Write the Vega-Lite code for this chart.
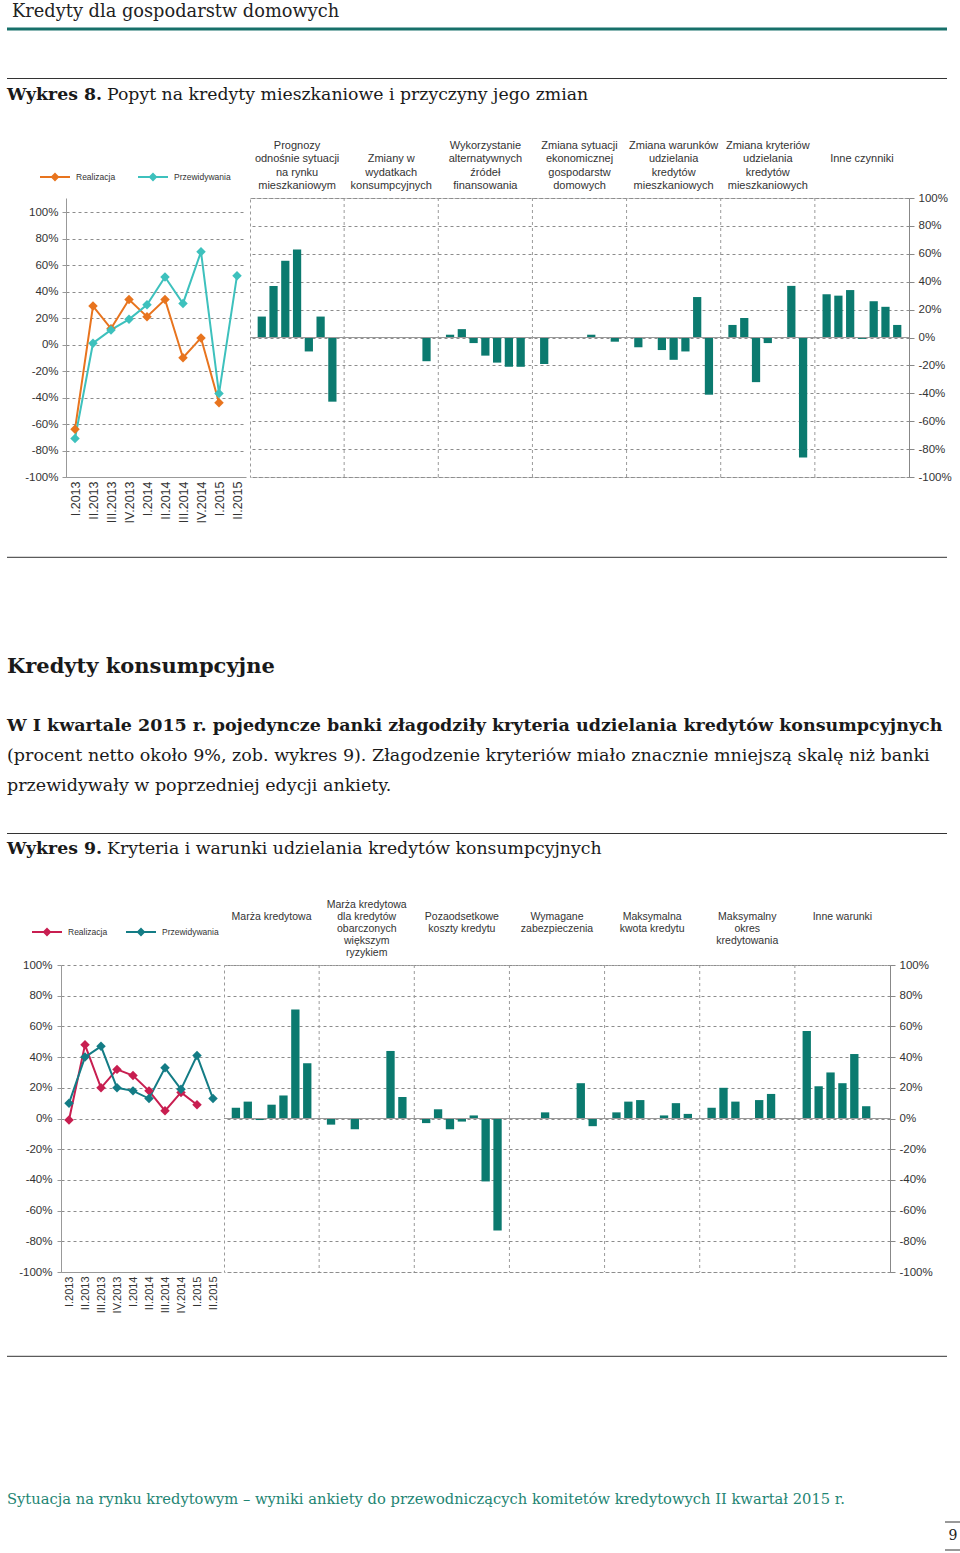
{
  "$schema": "https://vega.github.io/schema/vega-lite/v6.json",
  "background": "white",
  "padding": {"left": 5, "top": 2, "right": 0, "bottom": 0},
  "spacing": 0,
  "config": {
    "view": {"stroke": null},
    "font": "Liberation Sans",
    "axis": {"labelFont": "Liberation Sans", "labelColor": "#333"},
    "legend": {"labelFont": "Liberation Sans"},
    "title": {"font": "DejaVu Serif", "anchor": "start", "frame": "group", "color": "#1a1a1a", "fontWeight": "normal"}
  },
  "datasets": {
    "b8": [
      {"k": "III.2013_1", "v": 15}, {"k": "IV.2013_1", "v": 37}, {"k": "I.2014_1", "v": 55}, {"k": "II.2014_1", "v": 63}, {"k": "III.2014_1", "v": -10}, {"k": "IV.2014_1", "v": 15}, {"k": "I.2015_1", "v": -46},
      {"k": "I.2015_2", "v": -17},
      {"k": "III.2013_3", "v": 2}, {"k": "IV.2013_3", "v": 6}, {"k": "I.2014_3", "v": -4}, {"k": "II.2014_3", "v": -13}, {"k": "III.2014_3", "v": -18}, {"k": "IV.2014_3", "v": -21}, {"k": "I.2015_3", "v": -21},
      {"k": "III.2013_4", "v": -19}, {"k": "III.2014_4", "v": 2}, {"k": "I.2015_4", "v": -3},
      {"k": "III.2013_5", "v": -7}, {"k": "I.2014_5", "v": -9}, {"k": "II.2014_5", "v": -16}, {"k": "III.2014_5", "v": -10}, {"k": "IV.2014_5", "v": 29}, {"k": "I.2015_5", "v": -41},
      {"k": "III.2013_6", "v": 9}, {"k": "IV.2013_6", "v": 14}, {"k": "I.2014_6", "v": -32}, {"k": "II.2014_6", "v": -4}, {"k": "IV.2014_6", "v": 37}, {"k": "I.2015_6", "v": -86},
      {"k": "III.2013_7", "v": 31}, {"k": "IV.2013_7", "v": 30}, {"k": "I.2014_7", "v": 34}, {"k": "II.2014_7", "v": -1}, {"k": "III.2014_7", "v": 26}, {"k": "IV.2014_7", "v": 22}, {"k": "I.2015_7", "v": 9}
    ],
    "b9": [
      {"k": "III.2013_1", "v": 7}, {"k": "IV.2013_1", "v": 11}, {"k": "I.2014_1", "v": -1}, {"k": "II.2014_1", "v": 9}, {"k": "III.2014_1", "v": 15}, {"k": "IV.2014_1", "v": 71}, {"k": "I.2015_1", "v": 36},
      {"k": "III.2013_2", "v": -4}, {"k": "I.2014_2", "v": -7}, {"k": "IV.2014_2", "v": 44}, {"k": "I.2015_2", "v": 14},
      {"k": "III.2013_3", "v": -3}, {"k": "IV.2013_3", "v": 6}, {"k": "I.2014_3", "v": -7}, {"k": "II.2014_3", "v": -2}, {"k": "III.2014_3", "v": 2}, {"k": "IV.2014_3", "v": -41}, {"k": "I.2015_3", "v": -73},
      {"k": "I.2014_4", "v": 4}, {"k": "IV.2014_4", "v": 23}, {"k": "I.2015_4", "v": -5},
      {"k": "III.2013_5", "v": 4}, {"k": "IV.2013_5", "v": 11}, {"k": "I.2014_5", "v": 12}, {"k": "III.2014_5", "v": 2}, {"k": "IV.2014_5", "v": 10}, {"k": "I.2015_5", "v": 3},
      {"k": "III.2013_6", "v": 7}, {"k": "IV.2013_6", "v": 20}, {"k": "I.2014_6", "v": 11}, {"k": "III.2014_6", "v": 12}, {"k": "IV.2014_6", "v": 16},
      {"k": "III.2013_7", "v": 57}, {"k": "IV.2013_7", "v": 21}, {"k": "I.2014_7", "v": 30}, {"k": "II.2014_7", "v": 23}, {"k": "III.2014_7", "v": 42}, {"k": "IV.2014_7", "v": 8}
    ],
    "t8": [
      {"k": "II.2014_1", "t": "Prognozy|odnośnie sytuacji|na rynku|mieszkaniowym"},
      {"k": "II.2014_2", "t": "|Zmiany w|wydatkach|konsumpcyjnych"},
      {"k": "II.2014_3", "t": "Wykorzystanie|alternatywnych|źródeł|finansowania"},
      {"k": "II.2014_4", "t": "Zmiana sytuacji|ekonomicznej|gospodarstw|domowych"},
      {"k": "II.2014_5", "t": "Zmiana warunków|udzielania|kredytów|mieszkaniowych"},
      {"k": "II.2014_6", "t": "Zmiana kryteriów|udzielania|kredytów|mieszkaniowych"},
      {"k": "II.2014_7", "t": "|||Inne czynniki"}
    ],
    "t9": [
      {"k": "II.2014_1", "t": "||||Marża kredytowa"},
      {"k": "II.2014_2", "t": "Marża kredytowa|dla kredytów|obarczonych|większym|ryzykiem"},
      {"k": "II.2014_3", "t": "|||Pozaodsetkowe|koszty kredytu"},
      {"k": "II.2014_4", "t": "|||Wymagane|zabezpieczenia"},
      {"k": "II.2014_5", "t": "|||Maksymalna|kwota kredytu"},
      {"k": "II.2014_6", "t": "||Maksymalny|okres|kredytowania"},
      {"k": "II.2014_7", "t": "||||Inne warunki"}
    ],
    "seps": [{"k": "_s1"}, {"k": "_s2"}, {"k": "_s3"}, {"k": "_s4"}, {"k": "_s5"}, {"k": "_s6"}],
    "l8": [
      {"q": "I.2013", "s": "Realizacja", "v": -64}, {"q": "II.2013", "s": "Realizacja", "v": 29}, {"q": "III.2013", "s": "Realizacja", "v": 12}, {"q": "IV.2013", "s": "Realizacja", "v": 34}, {"q": "I.2014", "s": "Realizacja", "v": 21}, {"q": "II.2014", "s": "Realizacja", "v": 34}, {"q": "III.2014", "s": "Realizacja", "v": -10}, {"q": "IV.2014", "s": "Realizacja", "v": 5}, {"q": "I.2015", "s": "Realizacja", "v": -44},
      {"q": "I.2013", "s": "Przewidywania", "v": -71}, {"q": "II.2013", "s": "Przewidywania", "v": 1}, {"q": "III.2013", "s": "Przewidywania", "v": 11}, {"q": "IV.2013", "s": "Przewidywania", "v": 19}, {"q": "I.2014", "s": "Przewidywania", "v": 30}, {"q": "II.2014", "s": "Przewidywania", "v": 51}, {"q": "III.2014", "s": "Przewidywania", "v": 31}, {"q": "IV.2014", "s": "Przewidywania", "v": 70}, {"q": "I.2015", "s": "Przewidywania", "v": -37}, {"q": "II.2015", "s": "Przewidywania", "v": 52}
    ],
    "l9": [
      {"q": "I.2013", "s": "Realizacja", "v": -1}, {"q": "II.2013", "s": "Realizacja", "v": 48}, {"q": "III.2013", "s": "Realizacja", "v": 20}, {"q": "IV.2013", "s": "Realizacja", "v": 32}, {"q": "I.2014", "s": "Realizacja", "v": 28}, {"q": "II.2014", "s": "Realizacja", "v": 18}, {"q": "III.2014", "s": "Realizacja", "v": 5}, {"q": "IV.2014", "s": "Realizacja", "v": 17}, {"q": "I.2015", "s": "Realizacja", "v": 9},
      {"q": "I.2013", "s": "Przewidywania", "v": 10}, {"q": "II.2013", "s": "Przewidywania", "v": 40}, {"q": "III.2013", "s": "Przewidywania", "v": 47}, {"q": "IV.2013", "s": "Przewidywania", "v": 20}, {"q": "I.2014", "s": "Przewidywania", "v": 18}, {"q": "II.2014", "s": "Przewidywania", "v": 13}, {"q": "III.2014", "s": "Przewidywania", "v": 33}, {"q": "IV.2014", "s": "Przewidywania", "v": 19}, {"q": "I.2015", "s": "Przewidywania", "v": 41}, {"q": "II.2015", "s": "Przewidywania", "v": 13}
    ]
  },
  "vconcat": [
    {
      "width": 940, "height": 6,
      "data": {"values": [{}]},
      "mark": {"type": "rule", "color": "#17706A", "strokeWidth": 3},
      "encoding": {"y": {"datum": 0, "type": "quantitative", "scale": {"domain": [0, 1]}, "axis": null}},
      "title": {"text": "Kredyty dla gospodarstw domowych", "orient": "top", "offset": 2.5, "dx": 5, "fontSize": 17.8, "color": "#222"}
    },
    {
      "width": 940, "height": 47.5,
      "data": {"values": [{}]},
      "mark": {"type": "rule", "color": "#333", "strokeWidth": 1},
      "encoding": {"y": {"datum": 0, "type": "quantitative", "scale": {"domain": [0, 1]}, "axis": null}}
    },
    {
      "spacing": 5,
      "hconcat": [
        {"width": 1, "height": 1, "data": {"values": []}, "mark": "point",
         "title": {"text": "Wykres 8.", "orient": "bottom", "offset": 6, "fontSize": 17.3, "fontWeight": "bold"}},
        {"width": 1, "height": 1, "data": {"values": []}, "mark": "point",
         "title": {"text": "Popyt na kredyty mieszkaniowe i przyczyny jego zmian", "orient": "bottom", "offset": 6, "fontSize": 17.3}}
      ]
    },
    {"width": 1, "height": 34.5, "data": {"values": []}, "mark": "point"},
    {
      "bounds": "flush", "spacing": 0,
      "hconcat": [
        {"width": 59, "height": 1, "data": {"values": []}, "mark": "point"},
        {
          "width": 180, "height": 279,
          "data": {"name": "l8"},
          "encoding": {
            "x": {"field": "q", "type": "nominal", "sort": ["I.2013", "II.2013", "III.2013", "IV.2013", "I.2014", "II.2014", "III.2014", "IV.2014", "I.2015", "II.2015"],
                  "axis": {"title": null, "labelAngle": -90, "labelFontSize": 12.5, "domain": true, "domainColor": "#999", "ticks": false, "grid": false, "labelPadding": 4}},
            "y": {"field": "v", "type": "quantitative", "scale": {"domain": [-100, 110.6], "nice": false, "zero": false},
                  "axis": {"title": null, "values": [-100, -80, -60, -40, -20, 0, 20, 40, 60, 80, 100], "tickCount": 11, "labelOverlap": false, "labelExpr": "datum.value + '%'", "grid": true, "gridDash": [3, 3], "gridColor": "#8c8c8c", "domain": true, "domainColor": "#999", "ticks": true, "tickSize": 4, "tickColor": "#999", "labelFontSize": 11.5, "labelPadding": 4}},
            "color": {"field": "s", "type": "nominal", "scale": {"domain": ["Realizacja", "Przewidywania"], "range": ["#E8741E", "#3DC1BD"]},
                      "legend": {"orient": "none", "legendX": 32, "legendY": 138, "direction": "horizontal", "title": null, "labelFontSize": 8.5, "labelColor": "#333", "symbolType": "M-1,0L1,0M-0.2,0L0,-0.2L0.2,0L0,0.2Z", "symbolSize": 900, "symbolStrokeWidth": 2, "columnPadding": 18, "labelOffset": 5, "padding": 0}}
          },
          "layer": [
            {"mark": {"type": "line", "strokeWidth": 2}},
            {"mark": {"type": "point", "shape": "diamond", "filled": true, "size": 90, "opacity": 1}}
          ]
        },
        {"width": 4, "height": 1, "data": {"values": []}, "mark": "point"},
        {
          "width": 659, "height": 279,
          "view": {"stroke": "#9a9a9a", "strokeDash": [3, 3]},
          "layer": [
            {"data": {"name": "b8"}, "mark": {"type": "bar", "color": "#0B7A6F"},
             "encoding": {
               "x": {"field": "k", "type": "nominal",
                 "scale": {"domain": ["III.2013_1", "IV.2013_1", "I.2014_1", "II.2014_1", "III.2014_1", "IV.2014_1", "I.2015_1", "_s1", "III.2013_2", "IV.2013_2", "I.2014_2", "II.2014_2", "III.2014_2", "IV.2014_2", "I.2015_2", "_s2", "III.2013_3", "IV.2013_3", "I.2014_3", "II.2014_3", "III.2014_3", "IV.2014_3", "I.2015_3", "_s3", "III.2013_4", "IV.2013_4", "I.2014_4", "II.2014_4", "III.2014_4", "IV.2014_4", "I.2015_4", "_s4", "III.2013_5", "IV.2013_5", "I.2014_5", "II.2014_5", "III.2014_5", "IV.2014_5", "I.2015_5", "_s5", "III.2013_6", "IV.2013_6", "I.2014_6", "II.2014_6", "III.2014_6", "IV.2014_6", "I.2015_6", "_s6", "III.2013_7", "IV.2013_7", "I.2014_7", "II.2014_7", "III.2014_7", "IV.2014_7", "I.2015_7"], "paddingInner": 0.3, "paddingOuter": 0.65},
                 "axis": {"title": null, "labelAngle": -90, "labelFontSize": 9.5, "domain": false, "ticks": false, "grid": false, "labelPadding": 3, "labelOverlap": false, "labelExpr": "split(datum.value, '_')[0]"}},
               "y": {"field": "v", "type": "quantitative", "scale": {"domain": [-100, 100], "nice": false},
                 "axis": {"orient": "right", "title": null, "values": [-100, -80, -60, -40, -20, 0, 20, 40, 60, 80, 100], "tickCount": 11, "labelOverlap": false, "labelExpr": "datum.value + '%'", "grid": true, "gridDash": [3, 3], "gridColor": "#8c8c8c", "domain": true, "domainColor": "#888", "ticks": true, "tickSize": 5, "tickColor": "#888", "labelFontSize": 11.5, "labelPadding": 4}}}},
            {"data": {"name": "seps"}, "mark": {"type": "rule", "color": "#9a9a9a", "strokeDash": [3, 3]},
             "encoding": {"x": {"field": "k", "type": "nominal", "axis": null}}},
            {"data": {"values": [{}]}, "mark": {"type": "rule", "color": "#999"},
             "encoding": {"y": {"datum": 0, "type": "quantitative"}}},
            {"data": {"name": "t8"}, "mark": {"type": "text", "baseline": "bottom", "dy": -47.2, "lineBreak": "|", "fontSize": 11, "lineHeight": 13.4, "color": "#333", "font": "Liberation Sans"},
             "encoding": {"x": {"field": "k", "type": "nominal", "axis": null}, "y": {"datum": 100, "type": "quantitative"}, "text": {"field": "t"}}}
          ]
        }
      ]
    },
    {
      "width": 940, "height": 34.3,
      "data": {"values": [{}]},
      "mark": {"type": "rule", "color": "#333", "strokeWidth": 1},
      "encoding": {"y": {"datum": 0, "type": "quantitative", "scale": {"domain": [0, 1]}, "axis": null}}
    },
    {"width": 1, "height": 1, "data": {"values": []}, "mark": "point",
     "title": {"text": "Kredyty konsumpcyjne", "orient": "bottom", "offset": 97, "fontSize": 21, "fontWeight": "bold"}},
    {"width": 1, "height": 1, "data": {"values": []}, "mark": "point",
     "title": {"text": "W I kwartale 2015 r. pojedyncze banki złagodziły kryteria udzielania kredytów konsumpcyjnych", "orient": "bottom", "offset": 38.6, "fontSize": 17.5, "fontWeight": "bold"}},
    {"width": 1, "height": 1, "data": {"values": []}, "mark": "point",
     "title": {"text": ["(procent netto około 9%, zob. wykres 9). Złagodzenie kryteriów miało znacznie mniejszą skalę niż banki", "przewidywały w poprzedniej edycji ankiety."], "orient": "bottom", "offset": 10.5, "fontSize": 17.5, "lineHeight": 30}},
    {
      "width": 940, "height": 39.5,
      "data": {"values": [{}]},
      "mark": {"type": "rule", "color": "#333", "strokeWidth": 1},
      "encoding": {"y": {"datum": 0, "type": "quantitative", "scale": {"domain": [0, 1]}, "axis": null}}
    },
    {
      "spacing": 5,
      "hconcat": [
        {"width": 1, "height": 1, "data": {"values": []}, "mark": "point",
         "title": {"text": "Wykres 9.", "orient": "bottom", "offset": 5.4, "fontSize": 17.3, "fontWeight": "bold"}},
        {"width": 1, "height": 1, "data": {"values": []}, "mark": "point",
         "title": {"text": "Kryteria i warunki udzielania kredytów konsumpcyjnych", "orient": "bottom", "offset": 5.4, "fontSize": 17.3}}
      ]
    },
    {"width": 1, "height": 40.6, "data": {"values": []}, "mark": "point"},
    {
      "bounds": "flush", "spacing": 0,
      "hconcat": [
        {"width": 54, "height": 1, "data": {"values": []}, "mark": "point"},
        {
          "width": 160, "height": 307,
          "data": {"name": "l9"},
          "encoding": {
            "x": {"field": "q", "type": "nominal", "sort": ["I.2013", "II.2013", "III.2013", "IV.2013", "I.2014", "II.2014", "III.2014", "IV.2014", "I.2015", "II.2015"],
                  "axis": {"title": null, "labelAngle": -90, "labelFontSize": 11, "domain": true, "domainColor": "#999", "ticks": false, "grid": false, "labelPadding": 4}},
            "y": {"field": "v", "type": "quantitative", "scale": {"domain": [-100, 100], "nice": false, "zero": false},
                  "axis": {"title": null, "values": [-100, -80, -60, -40, -20, 0, 20, 40, 60, 80, 100], "tickCount": 11, "labelOverlap": false, "labelExpr": "datum.value + '%'", "grid": true, "gridDash": [3, 3], "gridColor": "#8c8c8c", "domain": true, "domainColor": "#999", "ticks": true, "tickSize": 4, "tickColor": "#999", "labelFontSize": 11.5, "labelPadding": 5}}
          },
          "layer": [
            {"mark": {"type": "line", "strokeWidth": 2},
             "encoding": {"stroke": {"field": "s", "type": "nominal", "sort": ["Realizacja", "Przewidywania"], "scale": {"range": ["#C81E50", "#137C85"]},
               "legend": {"orient": "none", "legendX": 24, "legendY": 893, "direction": "horizontal", "title": null, "labelFontSize": 8.5, "labelColor": "#333", "symbolType": "M-1,0L1,0M-0.2,0L0,-0.2L0.2,0L0,0.2Z", "symbolSize": 900, "symbolStrokeWidth": 2, "columnPadding": 14, "labelOffset": 5, "padding": 0}}}},
            {"mark": {"type": "point", "shape": "diamond", "filled": true, "size": 90, "opacity": 1},
             "encoding": {"fill": {"field": "s", "type": "nominal", "sort": ["Realizacja", "Przewidywania"], "scale": {"range": ["#C81E50", "#137C85"]}, "legend": null}}}
          ]
        },
        {"width": 3, "height": 1, "data": {"values": []}, "mark": "point"},
        {
          "width": 666, "height": 307,
          "view": {"stroke": "#9a9a9a", "strokeDash": [3, 3]},
          "layer": [
            {"data": {"name": "b9"}, "mark": {"type": "bar", "color": "#0B7A6F"},
             "encoding": {
               "x": {"field": "k", "type": "nominal",
                 "scale": {"domain": ["III.2013_1", "IV.2013_1", "I.2014_1", "II.2014_1", "III.2014_1", "IV.2014_1", "I.2015_1", "_s1", "III.2013_2", "IV.2013_2", "I.2014_2", "II.2014_2", "III.2014_2", "IV.2014_2", "I.2015_2", "_s2", "III.2013_3", "IV.2013_3", "I.2014_3", "II.2014_3", "III.2014_3", "IV.2014_3", "I.2015_3", "_s3", "III.2013_4", "IV.2013_4", "I.2014_4", "II.2014_4", "III.2014_4", "IV.2014_4", "I.2015_4", "_s4", "III.2013_5", "IV.2013_5", "I.2014_5", "II.2014_5", "III.2014_5", "IV.2014_5", "I.2015_5", "_s5", "III.2013_6", "IV.2013_6", "I.2014_6", "II.2014_6", "III.2014_6", "IV.2014_6", "I.2015_6", "_s6", "III.2013_7", "IV.2013_7", "I.2014_7", "II.2014_7", "III.2014_7", "IV.2014_7", "I.2015_7"], "paddingInner": 0.3, "paddingOuter": 0.65},
                 "axis": {"title": null, "labelAngle": -90, "labelFontSize": 9.5, "domain": false, "ticks": false, "grid": false, "labelPadding": 3, "labelOverlap": false, "labelExpr": "split(datum.value, '_')[0]"}},
               "y": {"field": "v", "type": "quantitative", "scale": {"domain": [-100, 100], "nice": false},
                 "axis": {"orient": "right", "title": null, "values": [-100, -80, -60, -40, -20, 0, 20, 40, 60, 80, 100], "tickCount": 11, "labelOverlap": false, "labelExpr": "datum.value + '%'", "grid": true, "gridDash": [3, 3], "gridColor": "#8c8c8c", "domain": true, "domainColor": "#888", "ticks": true, "tickSize": 5, "tickColor": "#888", "labelFontSize": 11.5, "labelPadding": 4}}}},
            {"data": {"name": "seps"}, "mark": {"type": "rule", "color": "#9a9a9a", "strokeDash": [3, 3]},
             "encoding": {"x": {"field": "k", "type": "nominal", "axis": null}}},
            {"data": {"values": [{}]}, "mark": {"type": "rule", "color": "#999"},
             "encoding": {"y": {"datum": 0, "type": "quantitative"}}},
            {"data": {"name": "t9"}, "mark": {"type": "text", "baseline": "bottom", "dy": -55, "lineBreak": "|", "fontSize": 10.5, "lineHeight": 12, "color": "#333", "font": "Liberation Sans"},
             "encoding": {"x": {"field": "k", "type": "nominal", "axis": null}, "y": {"datum": 100, "type": "quantitative"}, "text": {"field": "t"}}}
          ]
        }
      ]
    },
    {
      "width": 940, "height": 43.3,
      "data": {"values": [{}]},
      "mark": {"type": "rule", "color": "#333", "strokeWidth": 1},
      "encoding": {"y": {"datum": 0, "type": "quantitative", "scale": {"domain": [0, 1]}, "axis": null}}
    },
    {"width": 1, "height": 1, "data": {"values": []}, "mark": "point",
     "title": {"text": "Sytuacja na rynku kredytowym – wyniki ankiety do przewodniczących komitetów kredytowych II kwartał 2015 r.", "orient": "bottom", "offset": 134.3, "fontSize": 14.7, "color": "#1E8573"}},
    {"width": 1, "height": 13.7, "data": {"values": []}, "mark": "point"},
    {
      "spacing": 0,
      "hconcat": [
        {"width": 937, "height": 1, "data": {"values": []}, "mark": "point"},
        {
          "width": 16, "height": 28,
          "data": {"values": [{"p": "9"}]},
          "layer": [
            {"mark": {"type": "rule", "color": "#333"}, "encoding": {"y": {"datum": 0, "type": "quantitative", "scale": {"domain": [0, 1]}, "axis": null}}},
            {"mark": {"type": "rule", "color": "#333"}, "encoding": {"y": {"datum": 1, "type": "quantitative", "axis": null}}},
            {"mark": {"type": "text", "font": "DejaVu Serif", "fontSize": 14, "color": "#222"}, "encoding": {"text": {"field": "p"}}}
          ]
        }
      ]
    }
  ]
}
